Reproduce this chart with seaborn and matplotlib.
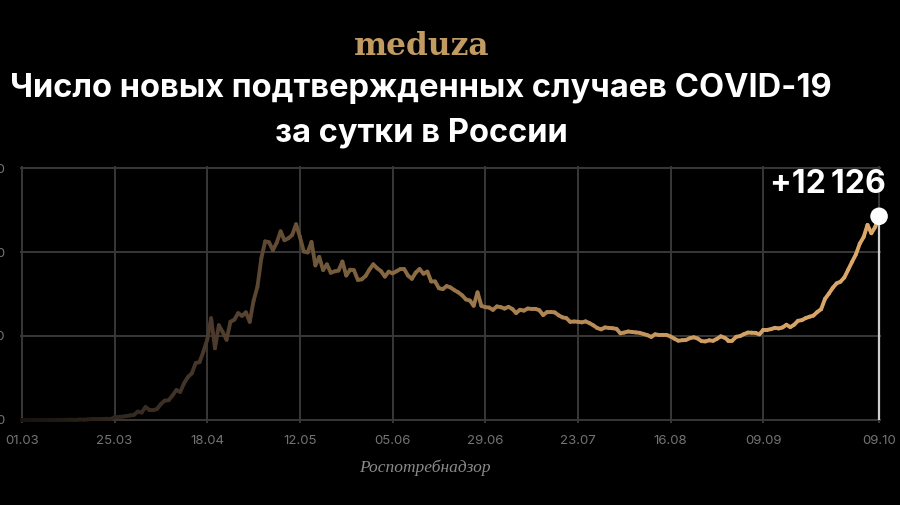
import numpy as np
import pandas as pd
import seaborn as sns
import matplotlib.pyplot as plt
import matplotlib.dates as mdates
from matplotlib.colors import LinearSegmentedColormap

# Новые случаи COVID-19 за сутки, Россия, 01.03.2020 - 09.10.2020
cases_mar = [0, 1, 0, 0, 1, 6, 3, 3, 0, 3, 8, 6, 17, 14, 4, 30, 21, 33, 52, 54,
             53, 61, 71, 57, 163, 182, 196, 228, 270, 302, 500]
cases_apr = [440, 771, 601, 582, 658, 954, 1154, 1175, 1459, 1786, 1667, 2186, 2558,
             2774, 3388, 3448, 4070, 4785, 6060, 4268, 5642, 5236, 4774, 5849, 5966,
             6361, 6198, 6411, 5841, 7099]
cases_may = [7933, 9623, 10633, 10581, 10102, 10559, 11231, 10699, 10817, 11012, 11656,
             10899, 10028, 9974, 10598, 9200, 9709, 8926, 9263, 8764, 8849, 8894, 9434,
             8599, 8946, 8915, 8338, 8371, 8572, 8952, 9268]
cases_jun = [9035, 8863, 8536, 8831, 8726, 8855, 8984, 8985, 8595, 8404, 8779, 8987,
             8706, 8835, 8246, 8248, 7843, 7790, 7972, 7889, 7728, 7600, 7425, 7176,
             7113, 6800, 7600, 6791, 6719, 6693]
cases_jul = [6556, 6760, 6718, 6632, 6736, 6611, 6368, 6562, 6509, 6635, 6611, 6615,
             6537, 6248, 6422, 6428, 6406, 6234, 6109, 6065, 5842, 5862, 5848, 5811,
             5871, 5765, 5635, 5475, 5395, 5509, 5482]
cases_aug = [5462, 5427, 5159, 5204, 5267, 5241, 5212, 5189, 5118, 5048, 4945, 5102,
             5057, 5065, 5061, 4969, 4839, 4718, 4748, 4767, 4870, 4921, 4852, 4696,
             4676, 4744, 4711, 4829, 4980, 4897, 4729]
cases_sep = [4729, 4952, 4995, 5110, 5205, 5195, 5185, 5099, 5363, 5363, 5406, 5488,
             5449, 5509, 5670, 5529, 5670, 5905, 5944, 6065, 6148, 6215, 6431, 6595,
             7212, 7523, 7867, 8135, 8232, 8481]
cases_oct = [8945, 9412, 9859, 10499, 10888, 11615, 11115, 11493, 12126]

cases = cases_mar + cases_apr + cases_may + cases_jun + cases_jul + cases_aug + cases_sep + cases_oct
dates = pd.date_range('2020-03-01', '2020-10-09', freq='D')

tick_dates = ['2020-03-01', '2020-03-25', '2020-04-18', '2020-05-12', '2020-06-05',
              '2020-06-29', '2020-07-23', '2020-08-16', '2020-09-09', '2020-10-09']
y_ticks = [0, 5000, 10000, 15000]
y_labels = ['0', '5 000', '10 000', '15 000']

title_1 = 'Число новых подтвержденных случаев COVID-19'
title_2 = 'за сутки в России'
source = 'Роспотребнадзор'
last_label = '+12\u2009126'

sns.set_style('dark')
plt.rcParams['font.family'] = ['Inter', 'DejaVu Sans']

fig = plt.figure(figsize=(9, 5.05), dpi=100, facecolor='black')
# пиксели: 01.03 -> x=22, 09.10 -> x=879; 0 -> y=420, 15000 -> y=168
ax = fig.add_axes([20 / 900, (505 - 422.5) / 505, 861 / 900, 257 / 505])
ax.set_facecolor('black')

# градиентная линия: каждый отрезок отдельным оттенком
cmap = LinearSegmentedColormap.from_list(
    'gold', ['#18140f', '#45362a', '#80633f', '#ad8452', '#d09e63', '#dca96a'],
)
rows = []
for i in range(len(dates) - 1):
    rows.append((dates[i], cases[i], i))
    rows.append((dates[i + 1], cases[i + 1], i))
seg = pd.DataFrame(rows, columns=['date', 'cases', 'seg'])
palette = {i: cmap(i / (len(dates) - 2)) for i in range(len(dates) - 1)}
sns.lineplot(data=seg, x='date', y='cases', hue='seg', palette=palette, legend=False,
             estimator=None, linewidth=2.8, solid_capstyle='round', ax=ax, zorder=3)

# последняя точка
ax.vlines(dates[-1], 0, cases[-1], color='#cfcfcf', linewidth=1.6, zorder=2)
sns.scatterplot(x=[dates[-1]], y=[cases[-1]], s=160, color='white', edgecolor='none',
                ax=ax, zorder=5, clip_on=False)
ax.annotate(last_label, xy=(dates[-1], cases[-1]), xytext=(-51, 32),
            textcoords='offset pixels', ha='center', va='center', color='white',
            fontsize=23, fontweight='bold', annotation_clip=False)

ax.set_xlim(dates[0] - pd.Timedelta(hours=12), dates[-1] + pd.Timedelta(hours=12))
ax.set_ylim(-150, 15150)
ax.set_xticks(pd.to_datetime(tick_dates))
ax.xaxis.set_major_formatter(mdates.DateFormatter('%d.%m'))
ax.set_yticks(y_ticks)
ax.set_yticklabels(y_labels)
ax.tick_params(axis='both', length=0, colors='#747474', labelsize=9.5)
ax.tick_params(axis='x', pad=9)
ax.tick_params(axis='y', pad=11)
ax.grid(True, color='#383838', linewidth=1.4)
ax.set_xlabel('')
ax.set_ylabel('')
for s in ax.spines.values():
    s.set_visible(False)

fig.text(0.469, 0.907, 'meduza', ha='center', va='center', color='#c29b62',
         fontsize=22.5, fontweight='bold', family='DejaVu Serif')
fig.text(0.468, 1 - 89 / 505, title_1, ha='center', va='center', color='white',
         fontsize=23.5, fontweight='bold')
fig.text(0.468, 1 - 133 / 505, title_2, ha='center', va='center', color='white',
         fontsize=23.5, fontweight='bold')
fig.text(0.472, 0.073, source, ha='center', va='center', color='#8a8a8a',
         fontsize=12.5, style='italic', family='Liberation Serif')

fig.savefig('out.png', dpi=100, facecolor='black')
